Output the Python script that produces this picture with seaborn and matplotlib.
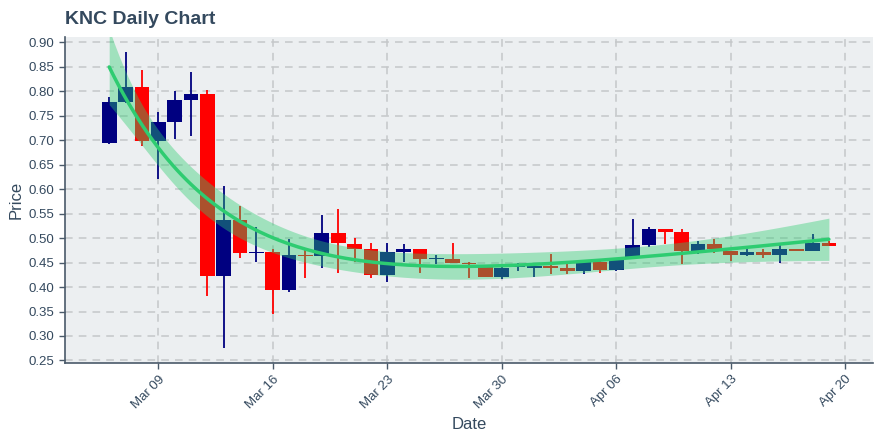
import matplotlib
matplotlib.use("Agg")
import matplotlib.pyplot as plt
import matplotlib.dates as mdates
import matplotlib.ticker as mticker
import numpy as np
import pandas as pd
import seaborn as sns
from scipy.optimize import curve_fit

# ---- data ----
dates = pd.date_range("2020-03-06", "2020-04-19", freq="D")
opens = [0.694, 0.778, 0.808, 0.699, 0.737, 0.782, 0.794, 0.422, 0.538, 0.470,
         0.471, 0.393, 0.466, 0.463, 0.510, 0.487, 0.477, 0.424, 0.472, 0.477,
         0.457, 0.457, 0.449, 0.441, 0.420, 0.440, 0.439, 0.442, 0.438, 0.433,
         0.451, 0.434, 0.459, 0.485, 0.518, 0.512, 0.470, 0.487, 0.474, 0.466,
         0.471, 0.466, 0.478, 0.474, 0.491]
highs = [0.789, 0.880, 0.843, 0.757, 0.800, 0.839, 0.802, 0.606, 0.565, 0.522,
         0.477, 0.498, 0.480, 0.548, 0.560, 0.500, 0.489, 0.491, 0.487, 0.478,
         0.465, 0.489, 0.451, 0.441, 0.441, 0.450, 0.443, 0.468, 0.448, 0.451,
         0.455, 0.460, 0.540, 0.522, 0.518, 0.518, 0.495, 0.499, 0.474, 0.481,
         0.477, 0.485, 0.478, 0.509, 0.495]
lows = [0.692, 0.776, 0.688, 0.621, 0.703, 0.709, 0.382, 0.275, 0.459, 0.452,
        0.344, 0.390, 0.418, 0.439, 0.429, 0.452, 0.419, 0.410, 0.452, 0.428,
        0.448, 0.449, 0.419, 0.420, 0.416, 0.433, 0.420, 0.427, 0.427, 0.426,
        0.429, 0.432, 0.457, 0.482, 0.487, 0.448, 0.467, 0.470, 0.454, 0.463,
        0.460, 0.450, 0.474, 0.474, 0.484]
closes = [0.778, 0.808, 0.699, 0.737, 0.782, 0.794, 0.422, 0.538, 0.469, 0.471,
          0.394, 0.465, 0.464, 0.510, 0.489, 0.477, 0.424, 0.471, 0.477, 0.457,
          0.458, 0.449, 0.448, 0.420, 0.438, 0.442, 0.442, 0.438, 0.433, 0.451,
          0.434, 0.457, 0.485, 0.518, 0.513, 0.473, 0.487, 0.478, 0.466, 0.471,
          0.466, 0.478, 0.474, 0.491, 0.484]
tick_dates = ["2020-03-09", "2020-03-16", "2020-03-23", "2020-03-30",
              "2020-04-06", "2020-04-13", "2020-04-20"]

df = pd.DataFrame({"date": dates, "open": opens, "high": highs,
                   "low": lows, "close": closes})
df["x"] = mdates.date2num(df["date"])

TEXT = "#34495e"
SPINE = "#4a5a6a"
UP = "#000080"
DOWN = "#ff0000"
FIT = "#2ecc71"

sns.set_theme(style="darkgrid")
plt.rcParams["font.family"] = ["Liberation Sans", "DejaVu Sans"]

fig = plt.figure(figsize=(8.8, 4.4), dpi=100)
fig.patch.set_facecolor("white")
ax = fig.add_axes([0.074, 0.175, 0.918, 0.740])
ax.set_facecolor("#eceff1")

# ---- candlesticks ----
width = 0.9
colors = [UP if c >= o else DOWN for o, c in zip(df["open"], df["close"])]
ax.vlines(df["x"], df["low"], df["high"], colors=colors, linewidth=1.3, zorder=1.5)
bottoms = np.minimum(df["open"], df["close"])
heights = np.maximum(np.abs(df["close"] - df["open"]), 0.002)
ax.bar(df["x"], heights, bottom=bottoms, width=width, color=colors,
       linewidth=0, zorder=1.6)

# ---- smooth trend fit on closing prices with 95% confidence band ----
t = (df["x"] - df["x"].iloc[0]).to_numpy()
yv = df["close"].to_numpy()


def trend(tt, base, amp, tau, slope):
    return base + amp * np.exp(-tt / tau) + slope * tt


p, cov = curve_fit(trend, t, yv, p0=[0.4, 0.4, 7.0, 0.002])
tg = np.linspace(t.min(), t.max(), 150)
fit = trend(tg, *p)
eps = 1e-6
J = np.column_stack([(trend(tg, *(p + eps * np.eye(4)[i])) - fit) / eps
                     for i in range(4)])
se = np.sqrt(np.einsum("ij,jk,ik->i", J, cov, J))
xg = tg + df["x"].iloc[0]
ax.fill_between(xg, fit - 1.96 * se, fit + 1.96 * se, color=FIT, alpha=0.4,
                linewidth=0, zorder=3)
sns.lineplot(x=xg, y=fit, color=FIT, linewidth=2.5, ax=ax, zorder=4)

# ---- axes ----
xpad = 0.05 * (df["x"].max() - df["x"].min() + width)
ax.set_xlim(df["x"].min() - width / 2 - xpad, df["x"].max() + width / 2 + xpad)
lo, hi = min(lows), max(highs)
ypad = 0.05 * (hi - lo)
ax.set_ylim(lo - ypad, hi + ypad)

ax.set_xticks(mdates.date2num(pd.to_datetime(tick_dates)))
ax.xaxis.set_major_formatter(mdates.DateFormatter("%b %d"))
ax.set_yticks(np.arange(0.25, 0.901, 0.05))
ax.yaxis.set_major_formatter(mticker.FormatStrFormatter("%.2f"))

ax.grid(True, which="major", color="#c4c7c9", linestyle=(0, (5, 4)), linewidth=1.1)
ax.set_axisbelow(True)

for s in ["top", "right"]:
    ax.spines[s].set_visible(False)
for s in ["left", "bottom"]:
    ax.spines[s].set_visible(True)
    ax.spines[s].set_color(SPINE)
    ax.spines[s].set_linewidth(1.2)

ax.tick_params(axis="both", which="major", direction="out", length=4, width=1,
               color=SPINE, labelcolor=TEXT, labelsize=9.5, bottom=True, left=True)
plt.setp(ax.get_xticklabels(), rotation=45, ha="right", rotation_mode="anchor")

ax.set_xlabel("Date", color=TEXT, fontsize=12)
ax.set_ylabel("Price", color=TEXT, fontsize=12)
ax.set_title("KNC Daily Chart", loc="left", color=TEXT, fontsize=14,
             fontweight="bold", pad=10)

fig.savefig("out.png", dpi=100)
